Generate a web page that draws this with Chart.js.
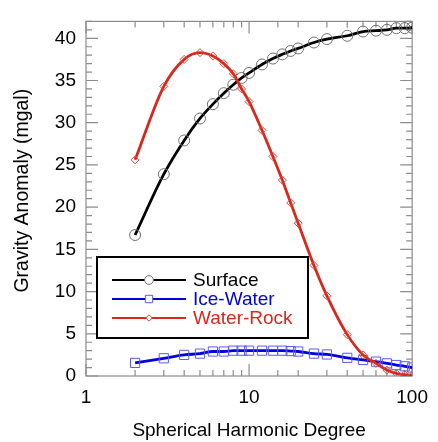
<!DOCTYPE html>
<html>
<head>
<meta charset="utf-8">
<script src="https://cdn.jsdelivr.net/npm/chart.js@4/dist/chart.umd.min.js"></script>
<style>
  html, body { margin: 0; padding: 0; background: #fff; }
  #wrap { width: 438px; height: 442px; }
</style>
</head>
<body>
<div id="wrap"><canvas id="gravityChart"></canvas></div>
<script>
const degrees = [2, 3, 4, 5, 6, 7, 8, 9, 10, 12, 14, 16, 18, 20, 25, 30, 40, 50, 60, 70, 80, 90, 100];
const surface = [16.7, 23.9, 27.9, 30.5, 32.2, 33.5, 34.5, 35.3, 35.9, 36.9, 37.6, 38.1, 38.5, 38.8, 39.5, 39.9, 40.3, 40.8, 40.9, 41.0, 41.2, 41.2, 41.25];
const iceWater = [1.55, 2.1, 2.5, 2.65, 2.9, 2.9, 3.0, 3.0, 3.0, 3.0, 3.0, 3.0, 2.95, 2.9, 2.65, 2.55, 2.15, 1.9, 1.7, 1.5, 1.3, 1.15, 1.0];
const waterRock = [25.6, 34.3, 37.5, 38.3, 37.9, 37.0, 35.8, 34.0, 32.5, 29.1, 26.0, 23.2, 20.5, 18.1, 13.1, 9.5, 4.9, 2.5, 1.5, 0.7, 0.3, 0.17, 0.06];
const xTickLabels = [1, 10, 100];
const yTickLabels = [0, 5, 10, 15, 20, 25, 30, 35, 40];

const FONT = 'Helvetica, "Liberation Sans", Arial, sans-serif';
const AXIS_GREY = '#8c8c8c';
const Y_TITLE = 'Gravity Anomaly (mgal)';

const series = [
  { label: 'Surface', data: surface, color: '#000000', text: '#000000', marker: 'circle', markerColor: '#707070', radius: 5.5 },
  { label: 'Ice-Water', data: iceWater, color: '#0000e0', text: '#0000e0', marker: 'rect', markerColor: '#5a5aff', radius: 6.5 },
  { label: 'Water-Rock', data: waterRock, color: '#d8281c', text: '#d8281c', marker: 'rectRot', markerColor: '#e0453a', radius: 4 }
];

const pts = arr => degrees.map((d, i) => ({ x: d, y: arr[i] }));

// box around the plot with inward ticks on every side, plus the y title
const frameTicks = {
  id: 'frameTicks',
  beforeDatasetsDraw(chart) {
    const { ctx, chartArea: a, scales: { x, y } } = chart;
    ctx.save();
    ctx.strokeStyle = AXIS_GREY;
    ctx.lineWidth = 1.2;
    ctx.strokeRect(a.left, a.top, a.right - a.left, a.bottom - a.top);
    ctx.beginPath();
    y.ticks.forEach(t => {
      const py = y.getPixelForValue(t.value);
      const len = t.value % 5 === 0 ? 12 : 6;
      ctx.moveTo(a.left, py); ctx.lineTo(a.left + len, py);
      ctx.moveTo(a.right, py); ctx.lineTo(a.right - len, py);
    });
    x.ticks.forEach(t => {
      const px = x.getPixelForValue(t.value);
      const len = xTickLabels.includes(t.value) ? 12 : 6;
      ctx.moveTo(px, a.bottom); ctx.lineTo(px, a.bottom - len);
      ctx.moveTo(px, a.top); ctx.lineTo(px, a.top + len);
    });
    ctx.stroke();

    ctx.translate(22.5, (a.top + a.bottom) / 2 - 8);
    ctx.rotate(-Math.PI / 2);
    ctx.font = '19.5px ' + FONT;
    ctx.fillStyle = '#000';
    ctx.textAlign = 'center';
    ctx.textBaseline = 'middle';
    ctx.fillText(Y_TITLE, 0, 0);
    ctx.restore();
  }
};

// legend box inside the plot, lower left
const boxLegend = {
  id: 'boxLegend',
  afterDraw(chart) {
    const { ctx, chartArea: a } = chart;
    const left = a.left + 11, top = a.bottom - 119, w = 211, h = 81;
    ctx.save();
    ctx.fillStyle = '#fff';
    ctx.fillRect(left, top, w, h);
    ctx.strokeStyle = '#000';
    ctx.lineWidth = 2;
    ctx.strokeRect(left, top, w, h);
    ctx.font = '19px ' + FONT;
    ctx.textBaseline = 'middle';
    series.forEach((s, i) => {
      const ry = top + 23 + i * 19;
      ctx.strokeStyle = s.color;
      ctx.lineWidth = 2;
      ctx.beginPath();
      ctx.moveTo(left + 15, ry); ctx.lineTo(left + 89, ry);
      ctx.stroke();
      ctx.lineWidth = 1;
      ctx.strokeStyle = s.markerColor;
      ctx.fillStyle = '#fff';
      Chart.helpers.drawPoint(ctx, { pointStyle: s.marker, radius: s.radius * 0.8, borderWidth: 1 }, left + 52, ry);
      ctx.fillStyle = s.text;
      ctx.fillText(s.label, left + 96, ry + 1);
    });
    ctx.restore();
  }
};

new Chart(document.getElementById('gravityChart'), {
  type: 'line',
  data: {
    datasets: series.map((s, i) => ({
      label: s.label,
      data: pts(s.data),
      borderColor: s.color,
      borderWidth: 2.8,
      cubicInterpolationMode: 'monotone',
      pointStyle: s.marker,
      pointRadius: s.radius,
      pointBorderWidth: 1,
      pointBorderColor: s.markerColor,
      pointBackgroundColor: 'rgba(0,0,0,0)',
      fill: false,
      order: 3 - i
    }))
  },
  options: {
    responsive: true,
    maintainAspectRatio: false,
    animation: false,
    layout: { padding: { top: 9, right: 18, left: 0, bottom: 0 } },
    plugins: { legend: { display: false }, tooltip: { enabled: false } },
    scales: {
      x: {
        type: 'logarithmic',
        min: 1,
        max: 100,
        grid: { display: false, drawTicks: false },
        border: { display: false },
        ticks: {
          autoSkip: false,
          maxRotation: 0,
          padding: 10,
          color: '#000',
          font: { family: FONT, size: 19 },
          callback: v => xTickLabels.includes(v) ? String(v) : ''
        },
        title: {
          display: true,
          text: 'Spherical Harmonic Degree',
          color: '#000',
          font: { family: FONT, size: 19 },
          padding: { top: 0, bottom: 0 }
        },
        afterFit: s => { s.height = 66; }
      },
      y: {
        min: 0,
        max: 42,
        grid: { display: false, drawTicks: false },
        border: { display: false },
        ticks: {
          stepSize: 1,
          autoSkip: false,
          padding: 10,
          color: '#000',
          font: { family: FONT, size: 19 },
          callback: v => yTickLabels.includes(v) ? String(v) : ''
        },
        afterFit: s => { s.width = 86; }
      }
    }
  },
  plugins: [frameTicks, boxLegend]
});
</script>
</body>
</html>
